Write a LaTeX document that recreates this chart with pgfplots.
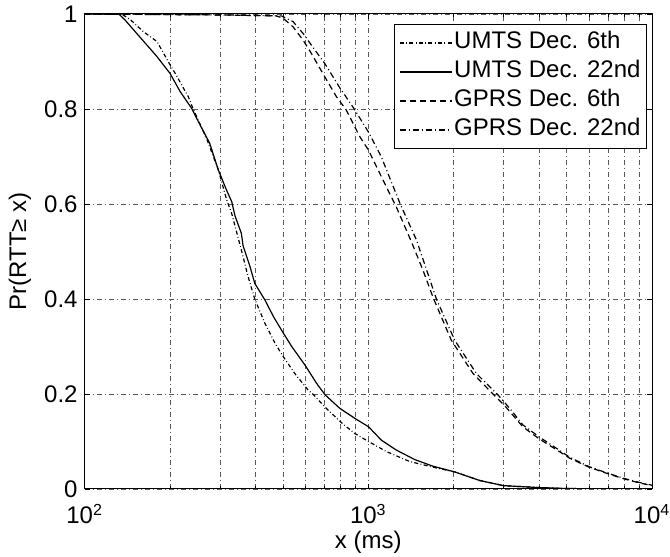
\documentclass[border=0pt]{standalone}
\usepackage{fontspec}
\setmainfont{Liberation Sans}
\usepackage{pgfplots}
\pgfplotsset{compat=1.18}
\begin{document}
\begin{tikzpicture}
\begin{axis}[
  at={(0,0)}, anchor=south west,
  scale only axis, width=283.7pt, height=237.5pt,
  xmode=log, xmin=100, xmax=10000, ymin=0, ymax=1,
  xtick={100,1000,10000},
  xticklabels={10\textsuperscript{2},10\textsuperscript{3},10\textsuperscript{4}},
  minor xtick={200,300,400,500,600,700,800,900,2000,3000,4000,5000,6000,7000,8000,9000},
  ytick={0,0.2,0.4,0.6,0.8,1},
  yticklabels={0,0.2,0.4,0.6,0.8,1},
  tick align=inside, tick pos=both,
  major tick length=2.5pt, minor tick length=1.5pt,
  every tick/.style={black, line width=0.4pt},
  xmajorgrids=true, xminorgrids=true, ymajorgrids=true,
  major grid style={black!65, line width=0.4pt, dash pattern=on 2.5pt off 1.5pt on 0.5pt off 1.5pt},
  minor grid style={black!65, line width=0.4pt, dash pattern=on 2.5pt off 1.5pt on 0.5pt off 1.5pt},
  axis line style={black, line width=0.5pt},
  tick label style={font=\fontsize{12}{14}\selectfont},
  xticklabel style={yshift=-4pt},
  label style={font=\fontsize{12}{14}\selectfont},
  xlabel={x (ms)}, ylabel={Pr(RTT≥ x)},
  ylabel style={at={(axis description cs:-0.114,0.5)}, anchor=center},
  xlabel style={at={(axis description cs:0.5,-0.112)}, anchor=center},
  legend cell align=left,
  legend image code/.code={\draw[#1] (0pt,0pt) -- (26pt,0pt);},
  legend style={at={(axis description cs:1,1)}, anchor=north east, xshift=-2.5pt, yshift=-5pt,
    draw=black, line width=0.5pt, fill=white, font=\fontsize{12}{14}\selectfont,
    inner sep=2pt, row sep=0pt,
    nodes={inner sep=1pt, text height=9pt, text depth=3.5pt}},
]
% UMTS Dec. 6th
\addplot[black, line width=0.6pt, dash pattern=on 2pt off 1.2pt on 0.4pt off 1.2pt] coordinates {
(100,1) (135,1) (145,0.988) (161,0.963) (180,0.942) (197,0.900) (211,0.870) (223,0.844)
(232,0.826) (241,0.801) (269,0.738) (296,0.672) (317,0.608) (330,0.580) (357,0.503)
(377,0.447) (398,0.400) (432,0.349) (469,0.307) (501,0.279) (551,0.243) (614,0.208)
(640,0.199) (702,0.173) (803,0.140) (895,0.117) (1002,0.100) (1157,0.079) (1397,0.058)
(1690,0.046) (2015,0.036) (2467,0.018) (3000,0.007) (4000,0.003) (5000,0.001) (7000,0.0003) (10000,0)
};
\addlegendentry{UMTS Dec. 6th}
% UMTS Dec. 22nd
\addplot[black, line width=0.6pt, solid] coordinates {
(100,1) (132,1) (139,0.987) (159,0.947) (179,0.912) (200,0.875) (217,0.837) (238,0.802)
(255,0.767) (276,0.728) (296,0.672) (316,0.630) (330,0.605) (339,0.575) (357,0.538)
(362,0.512) (383,0.468) (398,0.433) (432,0.398) (463,0.363) (502,0.328) (537,0.300)
(598,0.261) (658,0.222) (705,0.198) (793,0.170) (895,0.149) (1002,0.131) (1111,0.103)
(1255,0.082) (1457,0.062) (1690,0.048) (2015,0.036) (2467,0.018) (3000,0.007) (4000,0.003)
(5000,0.001) (7000,0.0003) (10000,0)
};
\addlegendentry{UMTS Dec. 22nd}
% GPRS Dec. 6th
\addplot[black, line width=0.6pt, dash pattern=on 3pt off 2pt] coordinates {
(100,1) (300,0.998) (474,0.996) (501,0.991) (543,0.973) (589,0.945) (630,0.917) (702,0.868)
(772,0.826) (836,0.798) (933,0.742) (1000,0.714) (1068,0.679) (1158,0.636) (1255,0.594)
(1420,0.520) (1560,0.460) (1700,0.400) (1963,0.313) (2340,0.243) (2750,0.200) (3030,0.175)
(3505,0.131) (4015,0.105) (4597,0.083) (5120,0.065) (6000,0.046) (7000,0.032) (8000,0.021)
(9000,0.013) (10000,0.007)
};
\addlegendentry{GPRS Dec. 6th}
% GPRS Dec. 22nd
\addplot[black, line width=0.6pt, dash pattern=on 3pt off 1.5pt on 0.5pt off 1.5pt] coordinates {
(100,1) (300,0.998) (494,0.996) (543,0.984) (589,0.959) (656,0.920) (702,0.896) (793,0.845)
(890,0.801) (1000,0.752) (1110,0.700) (1190,0.655) (1300,0.598) (1479,0.524) (1738,0.400)
(2017,0.313) (2405,0.243) (2865,0.198) (3150,0.170) (3505,0.135) (4015,0.109) (4597,0.086)
(5120,0.067) (6000,0.047) (7000,0.033) (8000,0.022) (9000,0.014) (10000,0.008)
};
\addlegendentry{GPRS Dec. 22nd}
\end{axis}
\pgfresetboundingbox
\path[use as bounding box] (-42.3pt,-34pt) rectangle (292.7pt,244.5pt);
\end{tikzpicture}
\end{document}
